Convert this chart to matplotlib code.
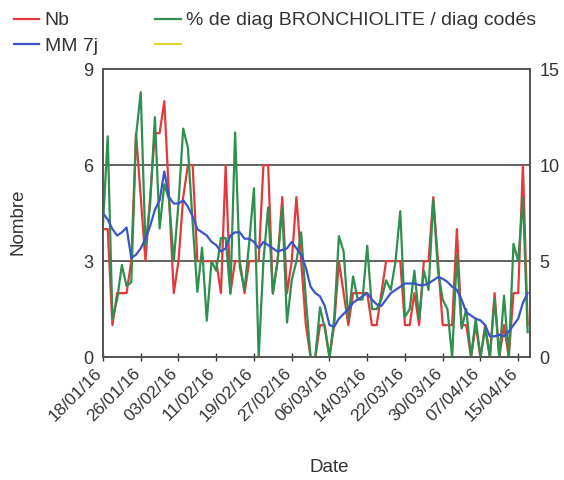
import matplotlib
matplotlib.use("Agg")
import matplotlib.pyplot as plt
import matplotlib.dates as mdates
from matplotlib.lines import Line2D
import pandas as pd

plt.rcParams['font.family'] = ['Liberation Sans', 'DejaVu Sans']

# daily values from 18/01/2016 to 17/04/2016
dates = pd.date_range('2016-01-18', '2016-04-17', freq='D')

nb = [4, 4, 1, 2, 2, 2, 3, 7, 5, 3,
      5, 7, 7, 8, 5, 2, 3, 5, 6, 6,
      3, 3, 3, 3, 3, 2, 6, 2, 3, 3,
      2, 3, 3, 3, 6, 6, 2, 3, 5, 2,
      3, 5, 3, 1, 0, 0, 1, 1, 0, 1,
      3, 2, 1, 2, 2, 2, 2, 1, 1, 2,
      3, 3, 3, 3, 1, 1, 2, 1, 3, 3,
      5, 3, 1, 1, 1, 4, 1, 1, 0, 1,
      0, 1, 0, 2, 0, 1, 0, 2, 2, 6,
      1]

mm7j = [4.5, 4.3, 4.0, 3.8, 3.9, 4.05, 3.1, 3.2, 3.4, 3.7,
        4.1, 4.6, 4.9, 5.8, 5.0, 4.8, 4.8, 4.9, 4.7, 4.4,
        4.0, 3.9, 3.8, 3.6, 3.5, 3.3, 3.4, 3.8, 3.9, 3.9,
        3.7, 3.7, 3.6, 3.4, 3.6, 3.5, 3.4, 3.3, 3.35, 3.4,
        3.6, 3.4, 3.2, 2.8, 2.2, 2.0, 1.9, 1.6, 1.0, 0.95,
        1.2, 1.35, 1.5, 1.7, 1.8, 1.9, 2.0, 1.8, 1.65, 1.6,
        1.8, 2.0, 2.1, 2.2, 2.3, 2.3, 2.3, 2.25, 2.25, 2.3,
        2.4, 2.5, 2.45, 2.35, 2.2, 2.1, 1.8, 1.4, 1.3, 1.2,
        1.15, 1.0, 0.65, 0.65, 0.7, 0.65, 0.8, 1.0, 1.2, 1.7,
        2.0]

pct = [6.9, 11.5, 2.0, 3.0, 4.8, 3.7, 3.9, 11.5, 13.8, 5.8,
       8.0, 12.5, 6.7, 9.0, 8.2, 5.0, 8.0, 11.9, 10.9, 7.0,
       3.4, 5.7, 1.9, 5.0, 4.5, 6.2, 6.2, 3.3, 11.7, 4.7,
       3.5, 6.0, 8.8, 0.0, 5.0, 7.8, 3.3, 5.0, 7.8, 1.8,
       4.0, 5.0, 6.5, 3.0, 0.0, 0.0, 2.6, 1.5, 0.0, 2.0,
       6.3, 5.5, 2.0, 4.2, 3.0, 3.0, 5.8, 2.5, 2.5, 3.0,
       4.0, 3.5, 5.0, 7.6, 2.1, 2.5, 4.5, 2.0, 4.5, 3.5,
       8.2, 4.5, 3.0, 2.5, 0.0, 5.3, 1.5, 2.5, 0.0, 2.0,
       0.0, 1.5, 0.0, 3.0, 0.0, 3.2, 0.0, 5.9, 5.0, 8.3,
       1.3]

labels = ['Nb', 'MM 7j', '% de diag BRONCHIOLITE / diag codés', '']
colors = ['#e5383b', '#3b55c9', '#2f8f4e', '#e6d23a']
text_color = '#333333'

fig = plt.figure(figsize=(5.64, 4.8), dpi=100)
ax = fig.add_axes([0.1826, 0.256, 0.7571, 0.6])
ax2 = ax.twinx()

ax.plot(dates, nb, color=colors[0], lw=1.6, zorder=2)
ax2.plot(dates, pct, color=colors[2], lw=1.6, zorder=2)
ax2.plot(dates, mm7j, color=colors[1], lw=1.6, zorder=3, transform=ax.transData)

ax.set_ylim(0, 9)
ax2.set_ylim(0, 15)
ax.set_yticks([0, 3, 6, 9])
ax2.set_yticks([0, 5, 10, 15])
ax.set_xlim(dates[0], dates[0] + pd.Timedelta(days=90.5))

for y in [3, 6]:
    ax.axhline(y, color='#555555', lw=1.3, zorder=1)

ticks = pd.date_range(dates[0], periods=12, freq='8D')
ax.set_xticks(ticks)
ax.xaxis.set_major_formatter(mdates.DateFormatter('%d/%m/%y'))
plt.setp(ax.get_xticklabels(), rotation=45, ha='right', va='baseline',
         rotation_mode='anchor')

for a in (ax, ax2):
    for s in a.spines.values():
        s.set_color('#555555')
        s.set_linewidth(1.3)
    a.tick_params(axis='y', length=0, labelsize=13, colors=text_color, pad=7)
ax.tick_params(axis='x', direction='inout', length=6, width=1, color='#333333',
               labelsize=12.5, labelcolor=text_color, pad=9)

ax.set_ylabel('Nombre', fontsize=13.5, color=text_color, va='center')
ax.yaxis.set_label_coords(-0.199, 0.47)
ax.set_xlabel('Date', fontsize=13.5, color=text_color, va='center')
ax.xaxis.set_label_coords(0.53, -0.385)

handles = [Line2D([], [], color=c, lw=1.6) for c in colors]
fig.legend(handles, labels, ncol=2, loc='upper left',
           bbox_to_anchor=(4 / 564, 1 - 2 / 480), borderpad=0,
           frameon=False, fontsize=14, handlelength=1.3, handletextpad=0.3,
           columnspacing=2.95, labelspacing=0.4, labelcolor=text_color)

fig.savefig('out.png', dpi=100)
